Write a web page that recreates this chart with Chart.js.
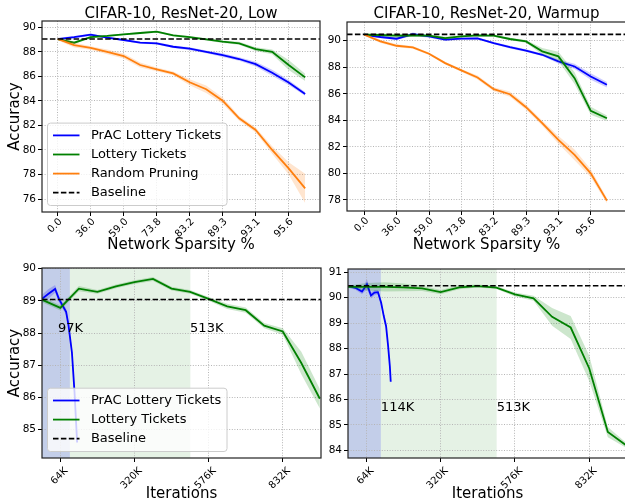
<!DOCTYPE html>
<html>
<head>
<meta charset="utf-8">
<script src="https://cdn.jsdelivr.net/npm/chart.js@4.4.1/dist/chart.umd.min.js"></script>
<style>
  html, body { margin: 0; padding: 0; background: #fff; overflow: hidden; }
  body { width: 625px; height: 502px; position: relative; }
  canvas { position: absolute; }
</style>
</head>
<body>
<canvas id="chartLow"></canvas>
<canvas id="chartWarmup"></canvas>
<canvas id="chartLowIter"></canvas>
<canvas id="chartWarmupIter"></canvas>
<script>
const FONT = "'DejaVu Sans', sans-serif";
const BLUE = 'rgb(0,0,255)';
const GREEN = 'rgb(0,128,0)';
const ORANGE = 'rgb(255,127,14)';

// x categories of the top row (network sparsity %, one per pruning round)
const sparsity = ['0.0', '20.0', '36.0', '48.8', '59.0', '67.2', '73.8', '79.0',
                  '83.2', '86.6', '89.3', '91.4', '93.1', '94.5', '95.6', '96.5'];
const sparsityTicks = [0, 2, 4, 6, 8, 10, 12, 14];

// x of the bottom row (training iterations, in K)
const roundIters = [0, 64, 128, 192, 256, 320, 384, 448, 512, 576, 640, 704, 768, 832, 896, 960];
const iterTicks = [64, 320, 576, 832];

const lowYTicks = [76, 78, 80, 82, 84, 86, 88, 90];
const warmYTicks = [78, 80, 82, 84, 86, 88, 90];
const lowIterYTicks = [85, 86, 87, 88, 89, 90];
const warmIterYTicks = [84, 85, 86, 87, 88, 89, 90, 91];

// CIFAR-10, ResNet-20, Low
const lowPrac = [89.05, 89.2, 89.4, 89.16, 88.97, 88.75, 88.7, 88.42, 88.26, 88.0, 87.74, 87.42, 87.0, 86.3, 85.5, 84.57];
const lowPracStd = [0.1, 0.1, 0.1, 0.08, 0.08, 0.08, 0.1, 0.1, 0.12, 0.12, 0.15, 0.15, 0.2, 0.25, 0.2, 0.15];
const lowLottery = [89.05, 88.75, 89.2, 89.3, 89.43, 89.54, 89.65, 89.35, 89.2, 89.02, 88.83, 88.7, 88.23, 88.0, 86.93, 85.92];
const lowLotteryStd = [0.1, 0.1, 0.1, 0.08, 0.08, 0.08, 0.08, 0.08, 0.1, 0.1, 0.1, 0.12, 0.15, 0.2, 0.4, 0.3];
const lowRandom = [89.05, 88.56, 88.32, 88.0, 87.66, 86.93, 86.58, 86.25, 85.52, 84.95, 84.02, 82.58, 81.63, 80.0, 78.5, 76.87];
const lowRandomStd = [0.1, 0.2, 0.15, 0.2, 0.2, 0.2, 0.15, 0.15, 0.25, 0.3, 0.25, 0.2, 0.2, 0.3, 0.5, 1.2];
const lowBaseline = 89.05;

// CIFAR-10, ResNet-20, Warmup
const warmPrac = [90.45, 90.28, 90.15, 90.5, 90.33, 90.08, 90.15, 90.18, 89.82, 89.52, 89.25, 88.94, 88.44, 88.06, 87.3, 86.68];
const warmPracStd = [0.08, 0.1, 0.1, 0.12, 0.1, 0.1, 0.08, 0.08, 0.08, 0.1, 0.1, 0.1, 0.15, 0.2, 0.25, 0.2];
const warmLottery = [90.45, 90.43, 90.38, 90.4, 90.38, 90.2, 90.33, 90.4, 90.38, 90.13, 89.95, 89.2, 88.82, 87.18, 84.72, 84.16];
const warmLotteryStd = [0.08, 0.12, 0.15, 0.1, 0.08, 0.1, 0.08, 0.08, 0.08, 0.1, 0.1, 0.25, 0.35, 0.45, 0.3, 0.2];
const warmRandom = [90.45, 89.95, 89.62, 89.5, 89.02, 88.31, 87.76, 87.23, 86.35, 85.97, 84.99, 83.79, 82.53, 81.4, 80.01, 77.95];
const warmRandomStd = [0.08, 0.12, 0.12, 0.1, 0.1, 0.1, 0.1, 0.15, 0.15, 0.2, 0.2, 0.2, 0.3, 0.4, 0.3, 0.2];
const warmBaseline = 90.48;

// accuracy vs iterations, Low
const lowPracIters = [0, 22, 46, 59, 72, 84, 92, 104, 113, 122];
const lowPracIterAcc = [89.06, 89.21, 89.37, 89.06, 88.85, 88.66, 88.25, 87.4, 86.16, 84.6];
const lowPracIterStd = [0.12, 0.15, 0.12, 0.1, 0.1, 0.1, 0.1, 0.12, 0.15, 0.2];
const lowLotteryIterAcc = [89.04, 88.78, 89.38, 89.28, 89.45, 89.58, 89.68, 89.38, 89.28, 89.06, 88.83, 88.71, 88.23, 88.05, 87.07, 85.96];
const lowLotteryIterStd = [0.08, 0.08, 0.08, 0.06, 0.06, 0.06, 0.06, 0.06, 0.06, 0.06, 0.08, 0.08, 0.08, 0.1, 0.35, 0.3];
const lowIterBaseline = 89.04;

// accuracy vs iterations, Warmup
const warmPracIters = [0, 26, 49, 66, 80, 92, 104, 115, 124, 132, 139, 145, 148];
const warmPracIterAcc = [90.46, 90.39, 90.24, 90.53, 90.09, 90.2, 90.22, 89.8, 89.28, 88.88, 88.1, 87.3, 86.7];
const warmPracIterStd = [0.05, 0.08, 0.1, 0.2, 0.12, 0.1, 0.08, 0.1, 0.1, 0.1, 0.12, 0.12, 0.15];
const warmLotteryIterAcc = [90.43, 90.43, 90.43, 90.41, 90.37, 90.22, 90.41, 90.46, 90.4, 90.13, 89.98, 89.25, 88.83, 87.22, 84.72, 84.19];
const warmLotteryIterStd = [0.05, 0.15, 0.18, 0.15, 0.1, 0.08, 0.08, 0.06, 0.06, 0.08, 0.1, 0.35, 0.45, 0.5, 0.2, 0.1];
const warmIterBaseline = 90.47;

const sparsityX = sparsity.map((s, i) => i);

function bandColor(c) {
  return c.replace('rgb', 'rgba').replace(')', ',0.2)');
}

function makeDecor(p) {
  return {
    id: 'decor',
    beforeDraw(chart) {
      const { ctx, chartArea: a, scales: { x } } = chart;
      (p.spans || []).forEach(s => {
        const x0 = Math.max(a.left, x.getPixelForValue(s.from));
        const x1 = x.getPixelForValue(s.to);
        ctx.save();
        ctx.fillStyle = s.color;
        ctx.fillRect(x0, a.top, x1 - x0, a.bottom - a.top);
        ctx.restore();
      });
    },
    afterDraw(chart) {
      const { ctx, chartArea: a, scales: { x, y } } = chart;
      ctx.save();
      // span labels
      ctx.font = `13px ${FONT}`;
      ctx.fillStyle = '#000';
      ctx.textBaseline = 'middle';
      ctx.textAlign = 'left';
      (p.notes || []).forEach(n => {
        ctx.fillText(n.text, x.getPixelForValue(n.x), y.getPixelForValue(n.y));
      });
      // frame
      ctx.strokeStyle = '#222';
      ctx.lineWidth = 1.2;
      ctx.strokeRect(a.left, a.top, a.right - a.left, a.bottom - a.top);
      // title
      if (p.title) {
        ctx.font = `15px ${FONT}`;
        ctx.textAlign = 'center';
        ctx.fillText(p.title, (a.left + a.right) / 2, 14);
      }
      // legend
      if (p.legend) {
        const rowH = 19.1;
        const w = 179.5, h = p.legend.length * rowH + 6;
        const left = a.left + 5.5, top = a.bottom - 6.5 - h;
        ctx.beginPath();
        ctx.roundRect(left, top, w, h, 3);
        ctx.fillStyle = 'rgba(255,255,255,0.8)';
        ctx.fill();
        ctx.strokeStyle = '#cccccc';
        ctx.lineWidth = 1;
        ctx.stroke();
        ctx.font = `13px ${FONT}`;
        ctx.textAlign = 'left';
        p.legend.forEach((it, i) => {
          const yy = top + 12.3 + i * rowH;
          ctx.beginPath();
          ctx.setLineDash(it.dash || []);
          ctx.strokeStyle = it.color;
          ctx.lineWidth = 1.8;
          ctx.moveTo(left + 5.5, yy);
          ctx.lineTo(left + 32, yy);
          ctx.stroke();
          ctx.setLineDash([]);
          ctx.fillStyle = '#000';
          ctx.fillText(it.label, left + 43.4, yy);
        });
      }
      ctx.restore();
    }
  };
}

function buildChart(id, p) {
  const cv = document.getElementById(id);
  const c = p.canvas, a = p.area;
  cv.width = c.w;
  cv.height = c.h;
  cv.style.left = c.l + 'px';
  cv.style.top = c.t + 'px';

  const datasets = [];
  p.series.forEach((s, k) => {
    const lo = s.x.map((xv, i) => ({ x: xv, y: s.y[i] - s.std[i] }));
    const hi = s.x.map((xv, i) => ({ x: xv, y: s.y[i] + s.std[i] }));
    datasets.push({ data: lo, borderWidth: 0, pointRadius: 0, fill: false, order: 30 - 3 * k });
    datasets.push({ data: hi, borderWidth: 0, pointRadius: 0, fill: '-1', backgroundColor: bandColor(s.color), order: 29 - 3 * k });
    datasets.push({
      label: s.label,
      data: s.x.map((xv, i) => ({ x: xv, y: s.y[i] })),
      borderColor: s.color, borderWidth: 1.8, pointRadius: 0, fill: false, order: 28 - 3 * k
    });
  });
  datasets.push({
    label: 'Baseline',
    data: [{ x: p.xMin, y: p.baseline }, { x: p.xMax, y: p.baseline }],
    borderColor: '#000', borderDash: [5.5, 2.4], borderWidth: 1.6, pointRadius: 0, fill: false, order: 0
  });

  const grid = { color: '#b5b5b5', lineWidth: 1, tickLength: 4, tickColor: '#000', tickWidth: 1, tickBorderDash: [] };
  const border = { display: false, dash: [1, 1.6] };

  return new Chart(cv, {
    type: 'line',
    data: { datasets },
    options: {
      responsive: false,
      devicePixelRatio: 1,
      animation: false,
      events: [],
      layout: { padding: { top: a.t - c.t, right: c.l + c.w - a.r, left: 0, bottom: 0 } },
      plugins: { legend: { display: false }, tooltip: { enabled: false } },
      elements: { line: { tension: 0 } },
      scales: {
        x: {
          type: 'linear',
          min: p.xMin, max: p.xMax,
          afterBuildTicks: sc => { sc.ticks = p.xTicks.map(v => ({ value: v })); },
          afterFit: sc => { sc.height = c.t + c.h - a.b; },
          ticks: {
            autoSkip: false, minRotation: 45, maxRotation: 45,
            labelOffset: p.xTickShift, padding: p.xTickPad,
            color: '#000', font: { family: FONT, size: 10 }, callback: p.xFormat
          },
          grid, border,
          title: { display: true, text: p.xTitle, color: '#000', font: { family: FONT, size: 15 }, padding: { top: 0, bottom: p.xTitlePad } }
        },
        y: {
          type: 'linear',
          min: p.yMin, max: p.yMax,
          afterBuildTicks: sc => { sc.ticks = p.yTicks.map(v => ({ value: v })); },
          afterFit: sc => { sc.width = a.l - c.l; },
          ticks: { color: '#000', font: { family: FONT, size: 10.5 }, padding: 2 },
          grid, border,
          title: { display: !!p.yTitle, text: p.yTitle, color: '#000', font: { family: FONT, size: 15 }, padding: { top: 6, bottom: 0 } }
        }
      }
    },
    plugins: [makeDecor(p)]
  });
}

const legendAll = [
  { label: 'PrAC Lottery Tickets', color: BLUE },
  { label: 'Lottery Tickets', color: GREEN },
  { label: 'Random Pruning', color: ORANGE },
  { label: 'Baseline', color: '#000', dash: [5.5, 2.4] }
];
const legendIter = [legendAll[0], legendAll[1], legendAll[3]];
const sparsityFormat = v => sparsity[v];
const iterFormat = v => v + 'K';

buildChart('chartLow', {
  canvas: { l: 0, t: 0, w: 322, h: 262 }, area: { l: 42, t: 21, r: 320, b: 212 },
  title: 'CIFAR-10, ResNet-20, Low',
  xMin: -0.95, xMax: 15.9, xTicks: sparsityTicks, xFormat: sparsityFormat,
  xTickShift: 3, xTickPad: 0, xTitle: 'Network Sparsity %', xTitlePad: 8,
  yMin: 74.94, yMax: 90.52, yTicks: lowYTicks, yTitle: 'Accuracy',
  baseline: lowBaseline,
  series: [
    { label: 'PrAC Lottery Tickets', color: BLUE, x: sparsityX, y: lowPrac, std: lowPracStd },
    { label: 'Lottery Tickets', color: GREEN, x: sparsityX, y: lowLottery, std: lowLotteryStd },
    { label: 'Random Pruning', color: ORANGE, x: sparsityX, y: lowRandom, std: lowRandomStd }
  ],
  legend: legendAll
});

buildChart('chartWarmup', {
  canvas: { l: 322, t: 0, w: 306, h: 262 }, area: { l: 347, t: 22, r: 626, b: 211 },
  title: 'CIFAR-10, ResNet-20, Warmup',
  xMin: -1.07, xMax: 16.18, xTicks: sparsityTicks, xFormat: sparsityFormat,
  xTickShift: 3, xTickPad: 0, xTitle: 'Network Sparsity %', xTitlePad: 8,
  yMin: 77.17, yMax: 91.41, yTicks: warmYTicks,
  baseline: warmBaseline,
  series: [
    { label: 'PrAC Lottery Tickets', color: BLUE, x: sparsityX, y: warmPrac, std: warmPracStd },
    { label: 'Lottery Tickets', color: GREEN, x: sparsityX, y: warmLottery, std: warmLotteryStd },
    { label: 'Random Pruning', color: ORANGE, x: sparsityX, y: warmRandom, std: warmRandomStd }
  ]
});

buildChart('chartLowIter', {
  canvas: { l: 0, t: 256, w: 322, h: 254 }, area: { l: 42, t: 268, r: 321, b: 458 },
  xMin: 0.7, xMax: 964, xTicks: iterTicks, xFormat: iterFormat,
  xTickShift: 6, xTickPad: 3, xTitle: 'Iterations', xTitlePad: 6.4,
  yMin: 84.12, yMax: 90.02, yTicks: lowIterYTicks, yTitle: 'Accuracy',
  baseline: lowIterBaseline,
  spans: [
    { from: 0, to: 513, color: 'rgba(0,128,0,0.1)' },
    { from: 0, to: 97, color: 'rgba(0,0,255,0.15)' }
  ],
  notes: [{ text: '97K', x: 56, y: 88.13 }, { text: '513K', x: 512, y: 88.13 }],
  series: [
    { label: 'PrAC Lottery Tickets', color: BLUE, x: lowPracIters, y: lowPracIterAcc, std: lowPracIterStd },
    { label: 'Lottery Tickets', color: GREEN, x: roundIters, y: lowLotteryIterAcc, std: lowLotteryIterStd }
  ],
  legend: legendIter
});

buildChart('chartWarmupIter', {
  canvas: { l: 322, t: 256, w: 306, h: 254 }, area: { l: 348, t: 269, r: 627, b: 458 },
  xMin: 0.77, xMax: 962, xTicks: iterTicks, xFormat: iterFormat,
  xTickShift: 6, xTickPad: 3, xTitle: 'Iterations', xTitlePad: 6.4,
  yMin: 83.7, yMax: 91.13, yTicks: warmIterYTicks,
  baseline: warmIterBaseline,
  spans: [
    { from: 0, to: 513, color: 'rgba(0,128,0,0.1)' },
    { from: 0, to: 114, color: 'rgba(0,0,255,0.15)' }
  ],
  notes: [{ text: '114K', x: 114, y: 85.68 }, { text: '513K', x: 513, y: 85.68 }],
  series: [
    { label: 'PrAC Lottery Tickets', color: BLUE, x: warmPracIters, y: warmPracIterAcc, std: warmPracIterStd },
    { label: 'Lottery Tickets', color: GREEN, x: roundIters, y: warmLotteryIterAcc, std: warmLotteryIterStd }
  ]
});
</script>
</body>
</html>
